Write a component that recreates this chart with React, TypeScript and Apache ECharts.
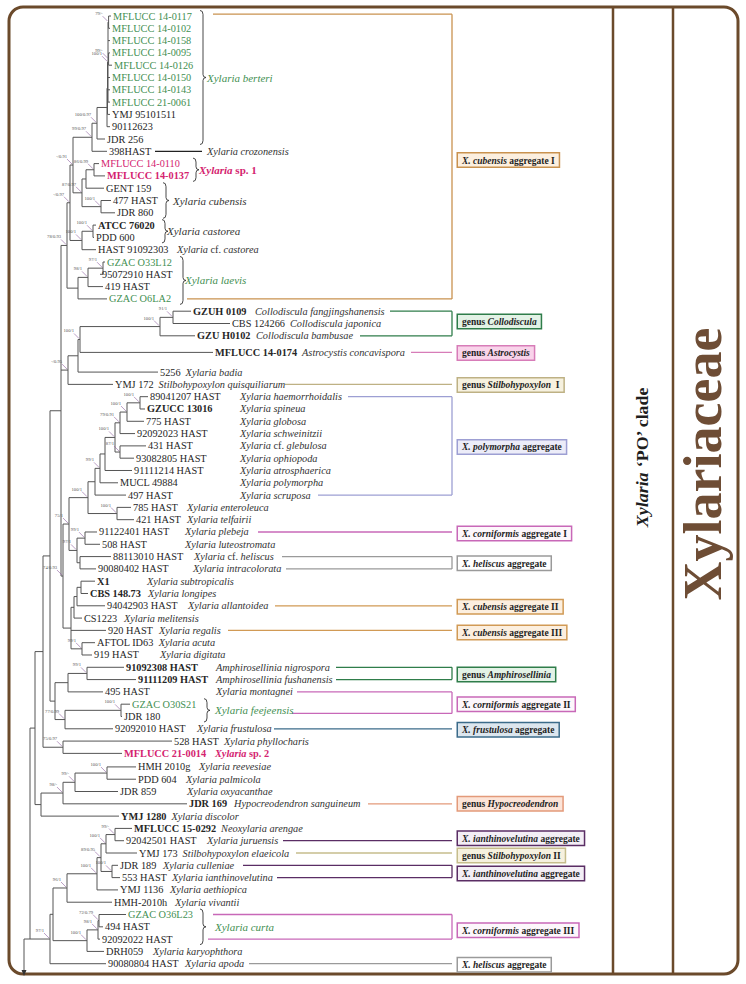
import React, { useEffect, useRef } from "react";
import * as echarts from "echarts";

const FONT = '"Liberation Serif","Times New Roman",serif';

// ---------------- data ----------------
const strains = [
  "MFLUCC 14-0117", "MFLUCC 14-0102", "MFLUCC 14-0158", "MFLUCC 14-0095", "MFLUCC 14-0126", "MFLUCC 14-0150", "MFLUCC 14-0143", "MFLUCC 21-0061", "YMJ 95101511", "90112623", "JDR 256", "398HAST",
  "MFLUCC 14-0110", "MFLUCC 14-0137", "GENT 159", "477 HAST", "JDR 860", "ATCC 76020", "PDD 600", "HAST 91092303", "GZAC O33L12", "95072910 HAST", "419 HAST", "GZAC O6LA2",
  "GZUH 0109", "CBS 124266", "GZU H0102", "MFLUCC 14-0174", "5256", "YMJ 172",
  "89041207 HAST", "GZUCC 13016", "775 HAST", "92092023 HAST", "431 HAST", "93082805 HAST", "91111214 HAST", "MUCL 49884", "497 HAST", "785 HAST", "421 HAST",
  "91122401 HAST", "508 HAST", "88113010 HAST", "90080402 HAST", "X1", "CBS 148.73", "94042903 HAST", "CS1223", "920 HAST", "AFTOL ID63", "919 HAST",
  "91092308 HAST", "91111209 HAST", "495 HAST", "GZAC O30S21", "JDR 180", "92092010 HAST", "528 HAST", "MFLUCC 21-0014",
  "HMH 2010g", "PDD 604", "JDR 859", "JDR 169", "YMJ 1280", "MFLUCC 15-0292", "92042501 HAST", "YMJ 173", "JDR 189", "553 HAST", "YMJ 1136", "HMH-2010h",
  "GZAC O36L23", "494 HAST", "92092022 HAST", "DRH059", "90080804 HAST",
];

// g = green, r = crimson, b = bold
const tones = [
  "g", "g", "g", "g", "g", "g", "g", "g", "", "", "", "",
  "r", "rb", "", "", "", "b", "", "", "g", "", "", "g",
  "b", "", "b", "b", "", "",
  "", "b", "", "", "", "", "", "", "", "", "",
  "", "", "", "", "b", "b", "", "", "", "", "",
  "b", "b", "", "g", "", "", "", "rb",
  "", "", "", "b", "b", "b", "", "", "", "", "", "",
  "g", "", "", "", "",
];

const species = [
  "", "", "", "", "", "", "", "", "", "", "", "Xylaria crozonensis",
  "", "", "", "", "", "", "", "Xylaria cf. castorea", "", "", "", "",
  "Collodiscula fangjingshanensis", "Collodiscula japonica", "Collodiscula bambusae", "Astrocystis concavispora", "Xylaria badia", "Stilbohypoxylon quisquiliarum",
  "Xylaria haemorrhoidalis", "Xylaria spineua", "Xylaria globosa", "Xylaria schweinitzii", "Xylaria cf. glebulosa", "Xylaria ophiopoda", "Xylaria atrosphaerica", "Xylaria polymorpha", "Xylaria scruposa", "Xylaria enteroleuca", "Xylaria telfairii",
  "Xylaria plebeja", "Xylaria luteostromata", "Xylaria cf. heliscus", "Xylaria intracolorata", "Xylaria subtropicalis", "Xylaria longipes", "Xylaria allantoidea", "Xylaria melitensis", "Xylaria regalis", "Xylaria acuta", "Xylaria digitata",
  "Amphirosellinia nigrospora", "Amphirosellinia fushanensis", "Xylaria montagnei", "", "", "Xylaria frustulosa", "Xylaria phyllocharis", "Xylaria sp. 2",
  "Xylaria reevesiae", "Xylaria palmicola", "Xylaria oxyacanthae", "Hypocreodendron sanguineum", "Xylaria discolor", "Neoxylaria arengae", "Xylaria juruensis", "Stilbohypoxylon elaeicola", "Xylaria culleniae", "Xylaria ianthinovelutina", "Xylaria aethiopica", "Xylaria vivantii",
  "", "", "", "Xylaria karyophthora", "Xylaria apoda",
];

// extra vertical space (in rows) before a given leaf
const rowGaps: [number, number][] = [[28, 0.35], [29, 0.6], [61, 0.1]];

// tree (newick: leaf numbers, support labels, ":" = node depth)
const cBerteri = "((1:111,2:110)79/-:108.6,3:110,(4:110,5:112)99/-:108.6,6:110,7:110,8:110)100/1:108";
const cCrozon = `((((${cBerteri},9:110):107.5,10:110):107,11:105)100/0.97:97,12:107)99/0.97:92`;
const cCubensis = "(((13:99,14:105)86/0.99:94,15:104):86,(16:111,17:115)100/1:101)87/0.97:82";
const cCastorea = "((18:96,19:94)100/1:93,20:96)100/1:82";
const cLaevis = "(((21:105,22:100)97/1:103,23:103)98/1:88,24:107):78";
const cCubI = `(((${cCrozon},${cCubensis})-/0.91:73,${cCastorea})-/0.97:70,${cLaevis})78/0.93:67`;
const cColl = "(((((25:191,26:230)91/1:173,27:195)100/1:160,28:213)100/1:80,29:158):78,30:113)-/0.95:68";
const cPolyCore = "((((((31:148,32:145)100/1:140,33:144)100/1:127,34:135)79/0.91:120,(35:146,36:134)87/1:120)100/1:115,37:132):105,38:118)99/1:100";
const cPoly = `(((${cPolyCore},39:126):95,(40:131,41:134)100/1:117)100/1:88,((42:97,43:100)99/1:85,(44:111,45:96):80)97/1:77)75/1:69`;
const cSubtrop = "((((46:95,47:88):81,48:105):77,49:82):74,50:106,(51:95,52:92)99/1:82):71";
const cUpper = `(${cCubI},${cColl},(${cPoly},${cSubtrop})74/0.93:63):61`;
const cAmphi = "(((53:124,54:136)99/1:87,55:103):68,((56:130,57:122)100/1:121,58:113)77/0.99:65):55";
const cPhyllo = "(59:172,60:122)75/0.97:63";
const cHypo = "((((61:136,62:136)100/1:107,63:118)99/-:75,64:187)98/-:63,65:119):41";
const cIanth = "((((66:132,67:124)99/-:115,68:137)100/1:106,(69:118,70:120)100/1:112)89/0.95:101,71:118)100/1:97";
const cCurta = "(((73:126,74:103)72/0.79:99,75:100)98/1:98,76:104)100/1:87";
const treeNewick = `((((${cUpper},${cAmphi}):50,${cPhyllo}):43,${cHypo}):35,(((${cIanth},72:112)96/1:67,${cCurta}):53,77:106)97/1:50):30`;

const braceGroups: [number, number, string, string][] = [
  [1, 11, "Xylaria berteri", "g"],
  [13, 14, "Xylaria sp. 1", "rb"],
  [15, 17, "Xylaria cubensis", ""],
  [18, 19, "Xylaria castorea", ""],
  [21, 24, "Xylaria laevis", "g"],
  [56, 57, "Xylaria feejeensis", "g"],
  [73, 75, "Xylaria curta", "g"],
];

const boxTexts: [string, string, string][] = [
  ["", "X. cubensis", " aggregate I"],
  ["genus ", "Collodiscula", ""],
  ["genus ", "Astrocystis", ""],
  ["genus ", "Stilbohypoxylon", "  I"],
  ["", "X. polymorpha", " aggregate"],
  ["", "X. corniformis", " aggregate I"],
  ["", "X. heliscus", " aggregate"],
  ["", "X. cubensis", " aggregate II"],
  ["", "X. cubensis", " aggregate III"],
  ["genus ", "Amphirosellinia", ""],
  ["", "X. corniformis", " aggregate II"],
  ["", "X. frustulosa", " aggregate"],
  ["genus ", "Hypocreodendron", ""],
  ["", "X. ianthinovelutina", " aggregate"],
  ["genus ", "Stilbohypoxylon", " II"],
  ["", "X. ianthinovelutina", " aggregate"],
  ["", "X. corniformis", " aggregate III"],
  ["", "X. heliscus", " aggregate"],
];
// leaves linked to each box: [leaf, row offset]
const boxLeaves: [number, number][][] = [
  [[1, -0.15], [24, 0]], [[25, 0], [27, 0]], [[28, 0]], [[30, 0]], [[31, 0], [39, 0]],
  [[42, 0]], [[44, 0], [45, 0]], [[48, 0]], [[50, 0]], [[53, 0], [54, 0]],
  [[55, 0], [57, -0.25]], [[58, 0]], [[64, 0]], [[67, 0]], [[68, 0]], [[69, 0], [70, 0]],
  [[73, 0], [75, 0]], [[77, 0]],
];

// ---------------- layout / style ----------------
const speciesX = [
  0, 0, 0, 0, 0, 0, 0, 0, 0, 0, 0, 207,
  0, 0, 0, 0, 0, 0, 0, 177, 0, 0, 0, 0,
  255, 289, 256, 302, 184, 152,
  240, 240, 240, 240, 240, 240, 240, 240, 240, 187, 187,
  185, 185, 194, 193, 147, 148, 188, 124, 159, 155, 160,
  216, 216, 216, 0, 0, 197, 223, 215,
  199, 186, 187, 234, 171, 220, 207, 177, 163, 163, 170, 175,
  0, 0, 0, 153, 185,
];
const braceX: [number, number][] = [[200, 207], [193, 199], [163, 173], [162, 167], [180, 185], [204, 215], [200, 215]];
const linkFrom: number[][] = [
  [213, 187], [390, 360], [411], [285], [348, 318], [258], [282, 286], [275], [228], [336, 336],
  [297, 292], [274], [368], [283], [296], [243, 277], [213, 208], [249],
];
const boxShiftPx = [3.5, -2, 0.5, 0.5, 1, 1.5, 0.5, 1, 2, 1, 1.5, 1, 0, -2.5, 2.5, 2, 3.5, 1];
const boxColors: [string, string][] = [
  ["#fcefdf", "#c9924f"], ["#e3f2e6", "#2f7d4a"], ["#f9d3ea", "#d77cb8"], ["#f6f1df", "#beb184"],
  ["#ececf8", "#9d9fd3"], ["#fdf7fb", "#c868b8"], ["#ffffff", "#9a9a9a"], ["#fcefdf", "#d19a55"],
  ["#fcefdf", "#d19a55"], ["#e3f2e6", "#2f7d4a"], ["#fdf7fb", "#c868b8"], ["#dce6ee", "#3b6b8a"],
  ["#fce4d8", "#e39a7a"], ["#f3eef5", "#5a2d64"], ["#f6f1df", "#c6bd8c"], ["#f3eef5", "#5a2d64"],
  ["#fdf7fb", "#c868b8"], ["#ffffff", "#9a9a9a"],
];
const dashLinks: [number, number, number][] = [[12, 155, 202]];
const LINK_END = 452;
const BOX_X = 458;
const ROOT_STUB = 24;
const ROW_PX = 12.3;
const ROW0 = 16;
const W = 746;
const H = 984;
const LABEL_SIZE = 10.3;

const GREEN = "#3f8f52";
const CRIMSON = "#d4236f";
const INK = "#262626";
const BRANCH = "#555555";
const FRAME = "#6b4a2b";

type TNode = { depth: number; label: string; children: TNode[]; leaf: number; row: number };

function parseNewick(s: string): TNode {
  let i = 0;
  const parseNode = (): TNode => {
    const node: TNode = { depth: 0, label: "", children: [], leaf: 0, row: 0 };
    if (s[i] === "(") {
      i++;
      for (;;) {
        node.children.push(parseNode());
        if (s[i] === ",") { i++; continue; }
        if (s[i] === ")") { i++; break; }
        throw new Error("bad newick at " + i);
      }
    }
    let name = "";
    while (i < s.length && s[i] !== ":" && s[i] !== "," && s[i] !== ")") name += s[i++];
    if (s[i] === ":") {
      i++;
      let num = "";
      while (i < s.length && /[0-9.]/.test(s[i])) num += s[i++];
      node.depth = parseFloat(num);
    }
    if (node.children.length === 0) node.leaf = parseInt(name, 10);
    else node.label = name;
    return node;
  };
  return parseNode();
}

function leafRow(i: number): number {
  let r = i - 1;
  for (const [leaf, g] of rowGaps) if (i >= leaf) r += g;
  return r;
}

function toneColor(t: string) {
  if (t.includes("g")) return GREEN;
  if (t.includes("r")) return CRIMSON;
  return INK;
}

function speciesRich(name: string) {
  return name
    .split(" ")
    .map((w) => (w === "cf." || w === "sp." || /^\d/.test(w) ? `{n|${w}}` : `{i|${w}}`))
    .join("{i| }");
}

function richStyles(tone: string, size: number) {
  const fill = tone.includes("g") ? GREEN : tone.includes("r") ? CRIMSON : "#333333";
  const weight = tone.includes("b") ? "bold" : "normal";
  return {
    i: { fontStyle: "italic", fontWeight: weight, fontSize: size, fontFamily: FONT, fill, color: fill },
    n: { fontStyle: "normal", fontWeight: weight, fontSize: size, fontFamily: FONT, fill, color: fill },
  };
}

let measureCtx: CanvasRenderingContext2D | null = null;
function textWidth(s: string, font: string) {
  if (!measureCtx) measureCtx = document.createElement("canvas").getContext("2d");
  if (!measureCtx) return s.length * 5.5;
  measureCtx.font = font;
  return measureCtx.measureText(s).width;
}

function buildOption() {
  const root = parseNewick(treeNewick);
  const segs: number[][] = [];
  const tips: number[][] = [];
  const boot: number[][] = [];
  const bootText: string[] = [];
  const walk = (n: TNode, pd: number | null) => {
    if (n.children.length === 0) {
      n.row = leafRow(n.leaf);
      const idx = n.leaf - 1;
      const bold = tones[idx].includes("b");
      const w = textWidth(strains[idx], `${bold ? "bold " : ""}${LABEL_SIZE}px "Liberation Serif"`);
      const spX = species[idx] ? Math.max(speciesX[idx], n.depth + 2 + w + 5) : 0;
      tips.push([n.depth, n.row, n.leaf, spX]);
    } else {
      n.children.forEach((c) => walk(c, n.depth));
      const a = n.children[0].row;
      const b = n.children[n.children.length - 1].row;
      n.row = (a + b) / 2;
      segs.push([n.depth, a, n.depth, b]);
      if (n.label) {
        boot.push([n.depth, n.row]);
        bootText.push(n.label);
      }
    }
    if (pd !== null) segs.push([pd, n.row, n.depth, n.row]);
  };
  walk(root, null);
  const lastRow = root.children[root.children.length - 1].row;
  segs.push([ROOT_STUB, lastRow, root.depth, lastRow]);

  const links: number[][] = [];
  const boxes: number[][] = [];
  boxLeaves.forEach((lst, bi) => {
    const rows = lst.map(([leaf, off]) => leafRow(leaf) + off);
    lst.forEach((_, k) => links.push([linkFrom[bi][k], rows[k], LINK_END, rows[k], bi]));
    if (rows.length > 1) links.push([LINK_END, rows[0], LINK_END, rows[rows.length - 1], bi]);
    boxes.push([BOX_X, (rows[0] + rows[rows.length - 1]) / 2 + boxShiftPx[bi] / ROW_PX]);
  });
  dashLinks.forEach(([leaf, x1, x2]) => links.push([x1, leafRow(leaf), x2, leafRow(leaf), -1]));

  const braces = braceGroups.map(([a, b], k) => [braceX[k][0], leafRow(a) - 0.45, leafRow(b) + 0.45, braceX[k][1]]);

  const lineRender = (color: (i: number) => string, width: number) => (params: any, api: any) => {
    const p1 = api.coord([api.value(0), api.value(1)]);
    const p2 = api.coord([api.value(2), api.value(3)]);
    return {
      type: "line",
      shape: { x1: p1[0], y1: p1[1], x2: p2[0], y2: p2[1] },
      style: { stroke: color(params.dataIndex), lineWidth: width },
    };
  };

  return {
    animation: false,
    backgroundColor: "#ffffff",
    grid: { left: 0, right: 0, top: 0, bottom: 0, containLabel: false },
    xAxis: { type: "value", min: 0, max: W, show: false },
    yAxis: { type: "value", inverse: true, min: -ROW0 / ROW_PX, max: (H - ROW0) / ROW_PX, show: false },
    graphic: [
      { type: "rect", silent: true, shape: { x: 9, y: 7, width: 729, height: 967, r: 14 }, style: { fill: "none", stroke: FRAME, lineWidth: 3 } },
      { type: "line", silent: true, shape: { x1: 613, y1: 7, x2: 613, y2: 974 }, style: { stroke: FRAME, lineWidth: 2.5 } },
      { type: "line", silent: true, shape: { x1: 673, y1: 7, x2: 673, y2: 974 }, style: { stroke: FRAME, lineWidth: 2.5 } },
      {
        type: "text", silent: true, x: 643, y: 457, rotation: Math.PI / 2, scaleX: 1.12,
        style: {
          text: "{i|Xylaria}{b| ‘PO’ clade}",
          rich: {
            i: { fontStyle: "italic", fontWeight: "bold", fontSize: 16, fontFamily: FONT, fill: "#1e1e1e" },
            b: { fontStyle: "normal", fontWeight: "bold", fontSize: 16, fontFamily: FONT, fill: "#1e1e1e" },
          },
          align: "center", verticalAlign: "middle",
        },
      },
      {
        type: "text", silent: true, x: 703, y: 464, rotation: Math.PI / 2,
        style: {
          text: "{a|Xylariaceae}",
          rich: { a: { fontWeight: "bold", fontSize: 54, fontFamily: FONT, fill: "#6e4d35" } },
          align: "center", verticalAlign: "middle",
        },
      },
    ],
    series: [
      {
        type: "custom", coordinateSystem: "cartesian2d", silent: true, clip: false, z: 2,
        data: segs, renderItem: lineRender(() => BRANCH, 1),
      },
      {
        type: "custom", coordinateSystem: "cartesian2d", silent: true, clip: false, z: 2,
        data: links,
        renderItem: lineRender((i) => (links[i][4] < 0 ? "#222222" : boxColors[links[i][4]][1]), 1.3),
      },
      {
        type: "custom", coordinateSystem: "cartesian2d", silent: true, clip: false, z: 3,
        data: tips,
        renderItem: (params: any, api: any) => {
          const leaf = tips[params.dataIndex][2];
          const idx = leaf - 1;
          const tone = tones[idx];
          const p = api.coord([api.value(0), api.value(1)]);
          const children: any[] = [
            {
              type: "text", x: p[0] + 2, y: p[1],
              style: {
                text: strains[idx], fill: toneColor(tone), fontFamily: FONT, fontSize: LABEL_SIZE,
                fontWeight: tone.includes("b") ? "bold" : "normal", align: "left", verticalAlign: "middle",
              },
            },
          ];
          if (species[idx]) {
            const q = api.coord([tips[params.dataIndex][3], api.value(1)]);
            const spTone = tone === "rb" ? "rb" : "";
            children.push({
              type: "text", x: q[0], y: q[1],
              style: {
                text: speciesRich(species[idx]), rich: richStyles(spTone, LABEL_SIZE),
                fontFamily: FONT, fontSize: LABEL_SIZE, fill: "#333333", align: "left", verticalAlign: "middle",
              },
            });
          }
          return { type: "group", children };
        },
      },
      {
        type: "custom", coordinateSystem: "cartesian2d", silent: true, clip: false, z: 3,
        data: boot,
        renderItem: (params: any, api: any) => {
          const p = api.coord([api.value(0), api.value(1)]);
          return {
            type: "group",
            children: [
              { type: "line", shape: { x1: p[0] - 6, y1: p[1] - 6, x2: p[0] - 1, y2: p[1] - 1 }, style: { stroke: "#8b5c9e", lineWidth: 0.6 } },
              {
                type: "text", x: p[0] - 6, y: p[1] - 6,
                style: { text: bootText[params.dataIndex], fill: "#555555", fontFamily: FONT, fontSize: 4.6, align: "right", verticalAlign: "bottom" },
              },
            ],
          };
        },
      },
      {
        type: "custom", coordinateSystem: "cartesian2d", silent: true, clip: false, z: 3,
        data: braces,
        renderItem: (params: any, api: any) => {
          const top = api.coord([api.value(0), api.value(1)]);
          const bot = api.coord([api.value(0), api.value(2)]);
          const lab = api.coord([api.value(3), (api.value(1) + api.value(2)) / 2]);
          const x = top[0], y1 = top[1], y2 = bot[1], ym = (y1 + y2) / 2;
          const d = `M${x},${y1} Q${x + 3},${y1} ${x + 3},${y1 + 4} L${x + 3},${ym - 3} Q${x + 3},${ym} ${x + 6},${ym} Q${x + 3},${ym} ${x + 3},${ym + 3} L${x + 3},${y2 - 4} Q${x + 3},${y2} ${x},${y2}`;
          const [, , label, tone] = braceGroups[params.dataIndex];
          return {
            type: "group",
            children: [
              { type: "path", shape: { pathData: d }, style: { fill: "none", stroke: "#333333", lineWidth: 0.9 } },
              {
                type: "text", x: lab[0], y: lab[1],
                style: {
                  text: speciesRich(label), rich: richStyles(tone, 11),
                  fontFamily: FONT, fontSize: 11, align: "left", verticalAlign: "middle",
                },
              },
            ],
          };
        },
      },
      {
        type: "custom", coordinateSystem: "cartesian2d", silent: true, clip: false, z: 4,
        data: boxes,
        renderItem: (params: any, api: any) => {
          const p = api.coord([api.value(0), api.value(1)]);
          const [pre, ital, post] = boxTexts[params.dataIndex];
          const [fill, stroke] = boxColors[params.dataIndex];
          const base = { fontWeight: "bold", fontSize: 9.5, fontFamily: FONT, fill: "#1e1e1e", color: "#1e1e1e" };
          const parts: string[] = [];
          if (pre) parts.push(`{n|${pre}}`);
          parts.push(`{i|${ital}}`);
          if (post) parts.push(`{n|${post}}`);
          return {
            type: "text", x: p[0], y: p[1],
            style: {
              text: parts.join(""),
              rich: { i: { ...base, fontStyle: "italic" }, n: { ...base, fontStyle: "normal" } },
              ...base, align: "left", verticalAlign: "middle",
              backgroundColor: fill, borderColor: stroke, borderWidth: 1.5, padding: [2, 4, 1, 4],
            },
          };
        },
      },
      {
        type: "custom", coordinateSystem: "cartesian2d", silent: true, clip: false, z: 2,
        data: [[ROOT_STUB, lastRow]],
        renderItem: (params: any, api: any) => {
          const p = api.coord([api.value(0), api.value(1)]);
          const yEnd = H - 8;
          return {
            type: "group",
            children: [
              { type: "line", shape: { x1: p[0], y1: p[1], x2: p[0], y2: yEnd - 5 }, style: { stroke: BRANCH, lineWidth: 1 } },
              { type: "polygon", shape: { points: [[p[0] - 2.5, yEnd - 6], [p[0] + 2.5, yEnd - 6], [p[0], yEnd]] }, style: { fill: "#333333" } },
            ],
          };
        },
      },
    ],
  };
}

export default function App() {
  const ref = useRef<HTMLDivElement>(null);
  useEffect(() => {
    const el = ref.current;
    if (!el) return;
    const chart = echarts.init(el, undefined, { renderer: "svg" });
    chart.setOption(buildOption() as any);
    return () => chart.dispose();
  }, []);
  return (
    <div
      ref={ref}
      style={{ position: "absolute", left: 0, top: 0, width: W, height: H, background: "#ffffff" }}
    />
  );
}
